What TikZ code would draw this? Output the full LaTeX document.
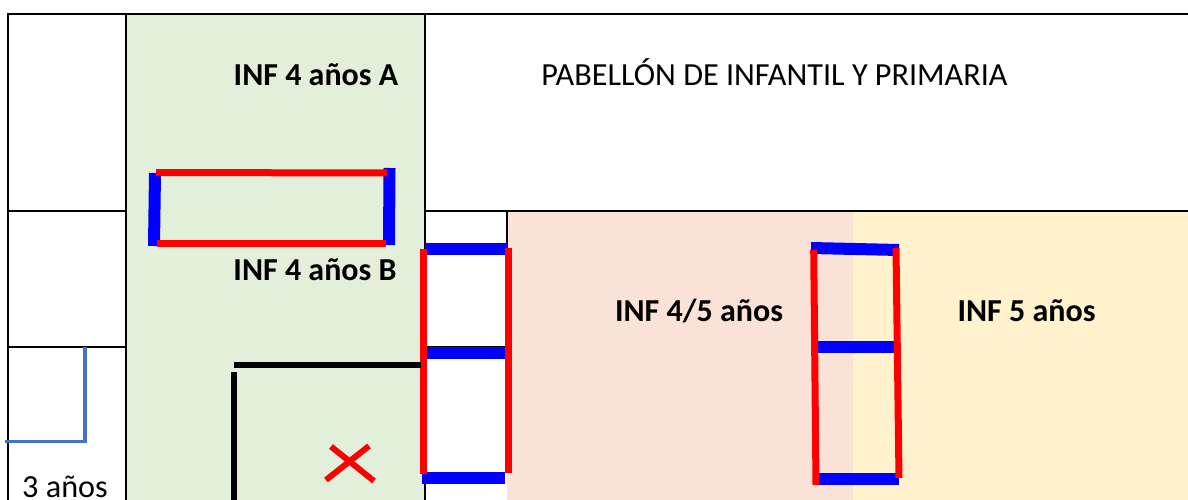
\documentclass[tikz,border=0pt]{standalone}
\usepackage{fontspec}
\setmainfont{Carlito}
\definecolor{greenfill}{HTML}{E2EFDA}
\definecolor{pinkfill}{HTML}{FBE2D6}
\definecolor{yellowfill}{HTML}{FFF2CC}
\definecolor{steel}{HTML}{4472C4}
\definecolor{wallblue}{HTML}{0000FF}
\definecolor{wallred}{HTML}{FF0000}
\tikzset{
  x=1pt,y=-1pt,
  grid/.style={draw=black,line width=2pt},
  bluewall/.style={draw=wallblue,line width=12pt},
  redwall/.style={draw=wallred,line width=7pt},
  blackwall/.style={draw=black,line width=6pt},
  room/.style={font=\fontsize{32}{36}\selectfont\bfseries,inner sep=0pt,anchor=base},
  plain/.style={font=\fontsize{32.2}{36}\selectfont,inner sep=0pt,anchor=base}
}
\begin{document}
\begin{tikzpicture}
\useasboundingbox (0,0) rectangle (1188,500);
\fill[white] (0,0) rectangle (1188,500);
% room fills
\fill[greenfill] (126,14) rectangle (425,500);
\fill[pinkfill] (507,211) rectangle (853,500);
\fill[yellowfill] (853,211) rectangle (1188,500);
% grid
\draw[grid] (8,500) -- (8,14) -- (1188,14);
\draw[grid] (126,14) -- (126,500);
\draw[grid] (425,14) -- (425,500);
\draw[grid] (8,211) -- (126,211);
\draw[grid] (425,211) -- (1188,211);
\draw[grid] (8,347) -- (126,347);
\draw[grid] (425,347) -- (507,347);
\draw[grid] (507,211) -- (507,250);
% blue corner line
\draw[steel,line width=4pt] (85,347) -- (85,441);
\draw[steel,line width=3pt] (5,441.5) -- (87,441.5);
% upper room walls
\draw[bluewall] (155,173) -- (154,246);
\draw[bluewall] (389.5,168) -- (389,245);
\draw[redwall] (156,172.5) -- (387,173);
\draw[redwall] (157,243) -- (386,243);
% middle ladder
\draw[bluewall] (425,249) -- (507,249);
\draw[bluewall] (426,352.5) -- (505,352.5);
\draw[bluewall] (422,478) -- (505,478);
\draw[redwall] (423,249) -- (423,474);
\draw[redwall] (508,248) -- (508,473);
% right ladder
\draw[bluewall] (811,248) -- (899,250);
\draw[bluewall] (818,347) -- (894,347);
\draw[bluewall] (817,479) -- (899,479);
\draw[redwall] (813.7,250) -- (816,485);
\draw[redwall] (896,248) -- (899,478);
% black walls
\draw[blackwall] (234,365) -- (421,365);
\draw[blackwall] (234,372) -- (234,500);
% red cross
\draw[wallred,line width=6pt] (326,480) -- (369,446);
\draw[wallred,line width=6pt] (331,446.5) -- (374,481);
% labels
\node[room] (a) at (316,86) {INF 4 años A};
\node[room] (b) at (315,280) {INF 4 años B};
\node[room] (c) at (699,321) {INF 4/5 años};
\node[room] (d) at (1026.5,321) {INF 5 años};
\node[plain] (e) at (774.5,85.5) {PABELLÓN DE INFANTIL Y PRIMARIA};
\node[plain] (f) at (65,497) {3 años};
\end{tikzpicture}
\end{document}
